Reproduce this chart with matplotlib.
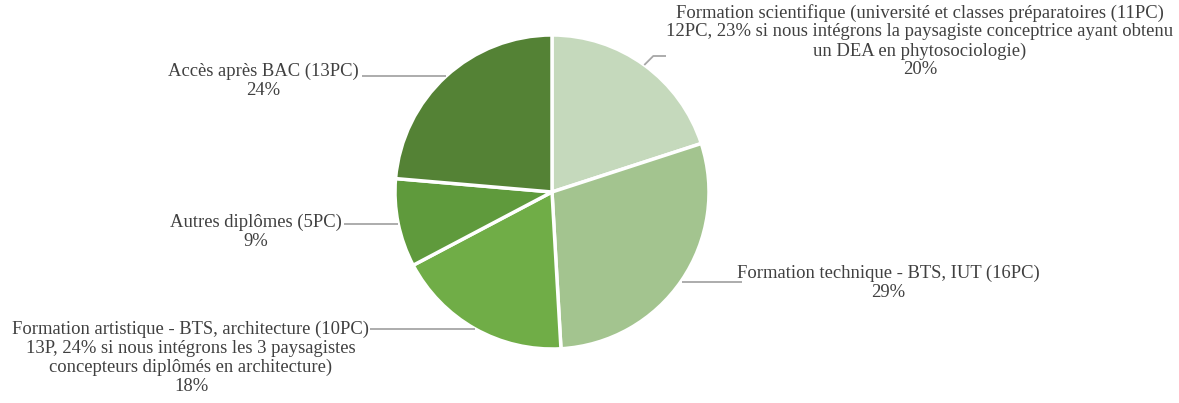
import numpy as np
from matplotlib import pyplot as plt

plt.rcParams['font.family'] = ['Liberation Serif', 'DejaVu Serif']

# data
labels = [
    "Formation scientifique (université et classes préparatoires (11PC)\n"
    "12PC, 23% si nous intégrons la paysagiste conceptrice ayant obtenu\n"
    "un DEA en phytosociologie)",
    "Formation technique - BTS, IUT (16PC)",
    "Formation artistique - BTS, architecture (10PC)\n"
    "13P, 24% si nous intégrons les 3 paysagistes\n"
    "concepteurs diplômés en architecture)",
    "Autres diplômes (5PC)",
    "Accès après BAC (13PC)",
]
counts = [11, 16, 10, 5, 13]
colors = ['#c5d9bc', '#a3c48f', '#70ad47', '#5f9a3c', '#548235']

W, H = 1179, 403
fig = plt.figure(figsize=(W / 100, H / 100), dpi=100)
ax = fig.add_axes([0, 0, 1, 1])

cx, cy, r = 552, H - 192, 157
wedges, _ = ax.pie(counts, colors=colors, startangle=90, counterclock=False,
                   center=(cx, cy), radius=r, frame=True,
                   wedgeprops=dict(edgecolor='white', linewidth=2.5))
ax.set_xlim(0, W)
ax.set_ylim(0, H)
ax.set_aspect('equal')
ax.axis('off')

# label centres (pixels, from top) and leader end points
text_pos = [(920, 41), (888, 283), (191, 358), (256, 232), (263, 81)]
line_end = [(666, 56), (742, 282), (370, 329), (344, 224), (362, 76)]

total = sum(counts)
for w, lab, n, (tx, ty), (ex, ey) in zip(wedges, labels, counts, text_pos, line_end):
    ang = np.deg2rad((w.theta1 + w.theta2) / 2)
    sx, sy = cx + r * np.cos(ang), cy + r * np.sin(ang)
    ey = H - ey
    if ex > cx and sy > cy and abs(sy - ey) > 2:
        xs = [sx, sx + 9, ex]
        ys = [sy, ey, ey]
    else:
        xs = [sx, ex]
        ys = [ey, ey]
    ax.plot(xs, ys, color='#a6a6a6', lw=1.3, solid_capstyle='butt')
    pct = f"{round(100 * n / total)}%"
    ax.text(tx, H - ty, lab + "\n" + pct, ha='center', va='center',
            fontsize=13.4, color='#404040', linespacing=1.14, multialignment='center')

fig.savefig('out.png', dpi=100)
